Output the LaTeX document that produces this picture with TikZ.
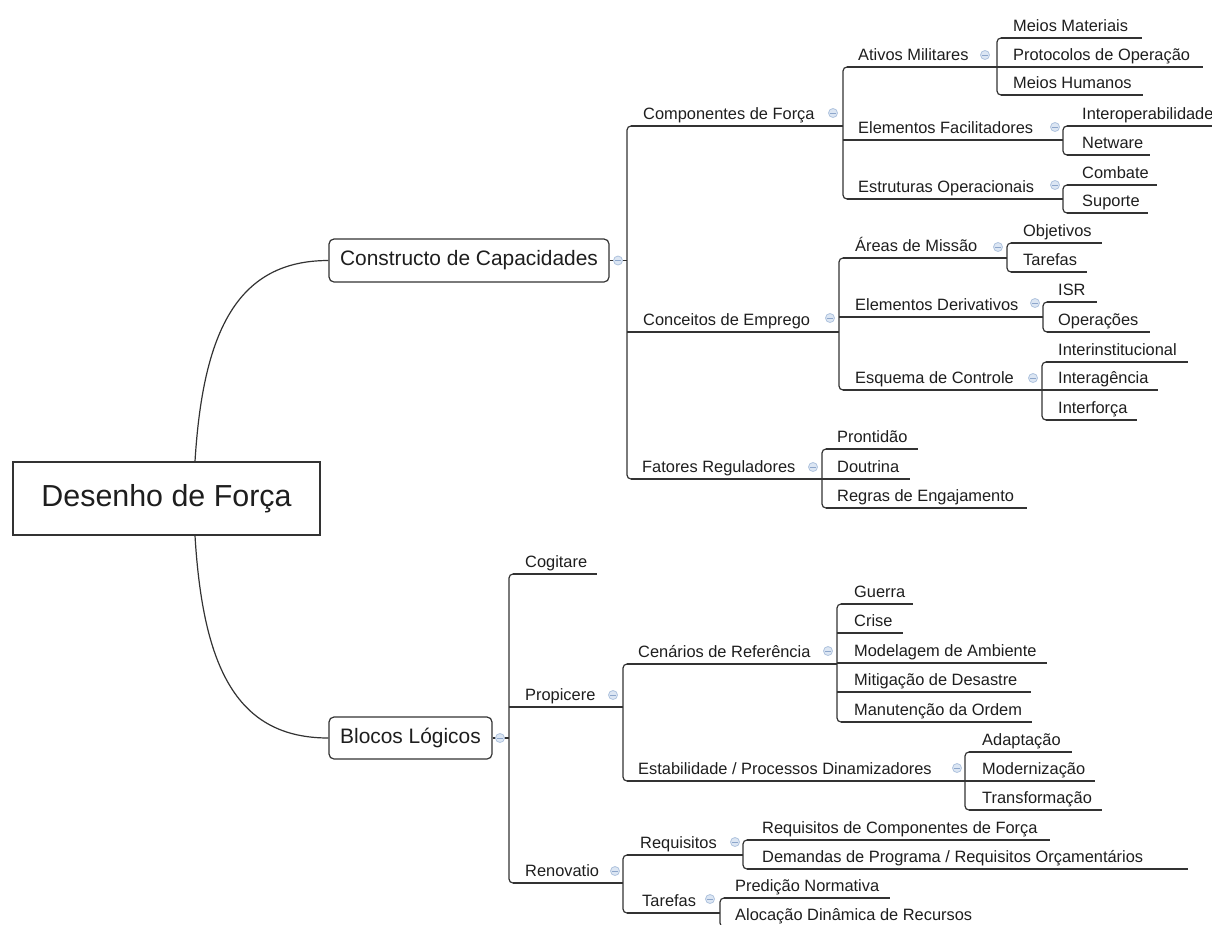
\documentclass[tikz,border=0pt]{standalone}
\usepackage{fontspec}
\setmainfont{Liberation Sans}

\definecolor{linec}{HTML}{333333}
\definecolor{textc}{HTML}{1E1E1E}
\definecolor{dotfill}{HTML}{DCE6F3}
\definecolor{dotborder}{HTML}{AFC3DE}
\definecolor{dotminus}{HTML}{8DA6CB}

% topic: name, text x, underline y, underline from, underline to, text
\newcommand\mmtopic[6]{%
  \node[topic] (#1) at (#2,#3-7) {#6};
  \draw[link] (#4,#3) -- (#5,#3);
}
% bracket joining the children of one topic: x, top y, bottom y
\newcommand\mmbracket[3]{%
  \draw[link, rounded corners=4pt] (#1+10,#2) -- (#1,#2) -- (#1,#3) -- (#1+10,#3);
}
% collapse marker
\newcommand\mmdot[2]{%
  \draw[dotc] (#1,#2) circle (4.5pt);
  \draw[dotm] (#1-2.6,#2) -- (#1+2.6,#2);
}

\begin{document}
\begin{tikzpicture}[x=1pt,y=-1pt,
  link/.style={draw=linec, line width=1.2pt},
  dotc/.style={draw=dotborder, fill=dotfill, line width=0.8pt},
  dotm/.style={draw=dotminus, line width=0.9pt},
  topic/.style={anchor=base west, inner sep=0pt, text=textc,
    font=\fontsize{16.4}{20}\selectfont},
  mainbox/.style={draw=linec, line width=1.2pt, rounded corners=5pt,
    fill=white, text=textc, inner sep=0pt,
    font=\fontsize{20.9}{25}\selectfont},
  rootbox/.style={draw=linec, line width=1.2pt, fill=white, text=textc,
    inner sep=0pt, minimum width=307pt, minimum height=73pt,
    font=\fontsize{30.4}{36}\selectfont},
]
\useasboundingbox (0,0) rectangle (1212,924);
\fill[white] (0,0) rectangle (1212,924);
\clip (0,0) rectangle (1212,924);

% central topic and the two main branches
\node[rootbox] (root) at (166.5,498.5) {Desenho de Força};
\node[mainbox, minimum width=280pt, minimum height=43pt] (cc) at (469,260.5) {Constructo de Capacidades};
\node[mainbox, minimum width=163pt, minimum height=42pt] (bl) at (410.5,738) {Blocos Lógicos};

\draw[link] ([xshift=28.5pt]root.north) .. controls (203,330) and (238,260.5) .. (cc.west);
\draw[link] ([xshift=28.5pt]root.south) .. controls (203,670) and (238,738) .. (bl.west);

\draw[link] (cc.east) -- (627,260.5);
\mmdot{618}{260.5}
\draw[link] (bl.east) -- (509,738);
\mmdot{500}{738}

% ---- Constructo de Capacidades ----
\mmbracket{627}{126}{479}
\mmtopic{comp}{643}{126}{631}{843}{Componentes de Força} \mmdot{833}{113}
 \mmbracket{843}{67}{199}
 \mmtopic{ativ}{858}{67}{847}{997}{Ativos Militares} \mmdot{985}{55}
  \mmbracket{997}{38}{95}
  \mmtopic{mmat}{1013}{38}{1001}{1142}{Meios Materiais}
  \mmtopic{prot}{1013}{67}{997}{1203}{Protocolos de Operação}
  \mmtopic{mhum}{1013}{95}{1001}{1143}{Meios Humanos}
 \mmtopic{efac}{858}{140}{843}{1063}{Elementos Facilitadores} \mmdot{1055}{127}
  \mmbracket{1063}{126}{155}
  \mmtopic{inop}{1082}{126}{1067}{1212}{Interoperabilidade}
  \mmtopic{netw}{1082}{155}{1067}{1150}{Netware}
 \mmtopic{estr}{858}{199}{847}{1063}{Estruturas Operacionais} \mmdot{1055}{185}
  \mmbracket{1063}{185}{213}
  \mmtopic{comb}{1082}{185}{1067}{1157}{Combate}
  \mmtopic{supo}{1082}{213}{1067}{1148}{Suporte}

\mmtopic{conc}{643}{332}{627}{839}{Conceitos de Emprego} \mmdot{830}{318}
 \mmbracket{839}{258}{390}
 \mmtopic{area}{855}{258}{843}{1007}{Áreas de Missão} \mmdot{998}{247}
  \mmbracket{1007}{243}{272}
  \mmtopic{obje}{1023}{243}{1011}{1102}{Objetivos}
  \mmtopic{tare}{1023}{272}{1011}{1087}{Tarefas}
 \mmtopic{eder}{855}{317}{839}{1043}{Elementos Derivativos} \mmdot{1035}{303}
  \mmbracket{1043}{302}{332}
  \mmtopic{isr}{1058}{302}{1047}{1097}{ISR}
  \mmtopic{oper}{1058}{332}{1047}{1150}{Operações}
 \mmtopic{esqu}{855}{390}{843}{1042}{Esquema de Controle} \mmdot{1033}{378}
  \mmbracket{1042}{362}{420}
  \mmtopic{inin}{1058}{362}{1046}{1188}{Interinstitucional}
  \mmtopic{inag}{1058}{390}{1042}{1158}{Interagência}
  \mmtopic{infr}{1058}{420}{1046}{1137}{Interforça}

\mmtopic{fato}{642}{479}{631}{822}{Fatores Reguladores} \mmdot{813}{467}
 \mmbracket{822}{449}{508}
 \mmtopic{pron}{837}{449}{826}{918}{Prontidão}
 \mmtopic{dout}{837}{479}{822}{910}{Doutrina}
 \mmtopic{regr}{837}{508}{826}{1027}{Regras de Engajamento}

% ---- Blocos Lógicos ----
\mmbracket{509}{574}{883}
\mmtopic{cogi}{525}{574}{513}{597}{Cogitare}
\mmtopic{prop}{525}{707}{509}{623}{Propicere} \mmdot{613}{695}
 \mmbracket{623}{664}{781}
 \mmtopic{cena}{638}{664}{627}{837}{Cenários de Referência} \mmdot{828}{651}
  \mmbracket{837}{604}{722}
  \mmtopic{guer}{854}{604}{841}{913}{Guerra}
  \mmtopic{cris}{854}{633}{837}{903}{Crise}
  \mmtopic{mamb}{854}{663}{837}{1047}{Modelagem de Ambiente}
  \mmtopic{miti}{854}{692}{837}{1031}{Mitigação de Desastre}
  \mmtopic{manu}{854}{722}{841}{1032}{Manutenção da Ordem}
 \mmtopic{esta}{638}{781}{627}{965}{Estabilidade / Processos Dinamizadores} \mmdot{957}{768}
  \mmbracket{965}{752}{810}
  \mmtopic{adap}{982}{752}{969}{1072}{Adaptação}
  \mmtopic{moder}{982}{781}{965}{1095}{Modernização}
  \mmtopic{tran}{982}{810}{969}{1102}{Transformação}

\mmtopic{reno}{525}{883}{513}{623}{Renovatio} \mmdot{615}{871}
 \mmbracket{623}{855}{913}
 \mmtopic{requ}{640}{855}{627}{743}{Requisitos} \mmdot{735}{842}
  \mmbracket{743}{840}{869}
  \mmtopic{rcf}{762}{840}{747}{1050}{Requisitos de Componentes de Força}
  \mmtopic{dprq}{762}{869}{747}{1188}{Demandas de Programa / Requisitos Orçamentários}
 \mmtopic{tarf}{642}{913}{627}{720}{Tarefas} \mmdot{710}{899}
  \mmbracket{720}{898}{927}
  \mmtopic{pred}{735}{898}{724}{890}{Predição Normativa}
  \mmtopic{aloc}{735}{927}{724}{950}{Alocação Dinâmica de Recursos}
\end{tikzpicture}
\end{document}
